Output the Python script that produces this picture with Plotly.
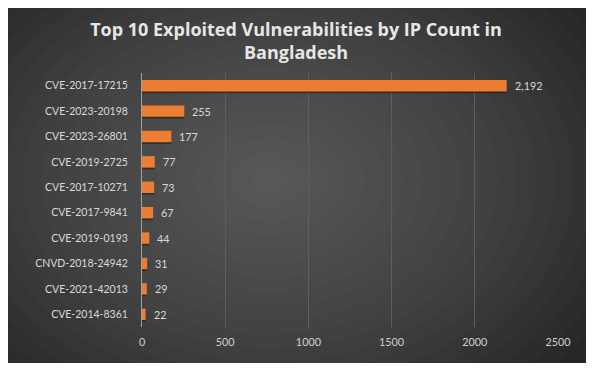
import plotly.graph_objects as go

categories = ["CVE-2017-17215", "CVE-2023-20198", "CVE-2023-26801", "CVE-2019-2725",
              "CVE-2017-10271", "CVE-2017-9841", "CVE-2019-0193", "CNVD-2018-24942",
              "CVE-2021-42013", "CVE-2014-8361"]
ip_counts = [2192, 255, 177, 77, 73, 67, 44, 31, 29, 22]
x_ticks = [0, 500, 1000, 1500, 2000, 2500]

OFF = 8  # page body margin
W, H = 596 - OFF, 370 - OFF
L, R, T, B = 142 - OFF, 558 - OFF, 73 - OFF, 327 - OFF

def px(x):
    return (x - OFF - L) / (R - L)

def py(y):
    return (B - (y - OFF)) / (B - T)

shapes = [dict(type="rect", xref="paper", yref="paper", layer="below",
               x0=px(4), x1=px(586), y0=py(363), y1=py(7),
               fillcolor="#262626", line=dict(width=0))]
n = 20
for i in range(n):
    f = 1 - i / n
    cx, cy = 270, 180
    rx, ry = 380 * f, 280 * f
    shapes.append(dict(type="circle", xref="paper", yref="paper", layer="below",
                       x0=px(cx - rx), x1=px(cx + rx), y0=py(cy + ry), y1=py(cy - ry),
                       fillcolor="rgba(255,255,255,0.016)", line=dict(width=0)))

font_lbl = "Lato"

fig = go.Figure()
fig.add_trace(go.Bar(
    y=categories, x=ip_counts, orientation="h",
    marker=dict(color="rgba(0,0,0,0.35)", line=dict(width=0)),
    width=0.45, offset=-0.225 - 0.07, hoverinfo="skip",
))
fig.add_trace(go.Bar(
    y=categories, x=ip_counts, orientation="h",
    marker=dict(color="#ED7D31", line=dict(width=0)),
    width=0.45, offset=-0.225,
))
for c, v in zip(categories, ip_counts):
    fig.add_annotation(x=v, y=c, text=f"{v:,}", showarrow=False, xanchor="left",
                       xshift=6, font=dict(family=font_lbl, size=10.8, color="#d9d9d9"))

fig.update_layout(
    width=W, height=H,
    margin=dict(l=L, r=W - R, t=T, b=H - B, pad=0),
    paper_bgcolor="white", plot_bgcolor="rgba(0,0,0,0)",
    shapes=shapes,
    barmode="overlay",
    showlegend=False,
    title=dict(text="<b>Top 10 Exploited Vulnerabilities by IP Count in<br>Bangladesh</b>",
               x=(296 - OFF) / W, xanchor="center", y=1 - (36 - OFF) / H, yanchor="middle",
               font=dict(family="Open Sans", size=18, color="#e6e6e6")),
    xaxis=dict(range=[0, 2500], tickvals=x_ticks, showgrid=True, gridcolor="#5e5e5e",
               gridwidth=1, zeroline=False, showline=False,
               tickfont=dict(family=font_lbl, size=10.8, color="#d0d0d0"),
               ticklabelstandoff=7),
    yaxis=dict(categoryorder="array", categoryarray=categories[::-1],
               showgrid=False, zeroline=False, showline=True, linecolor="#a0a0a0",
               linewidth=1, tickfont=dict(family=font_lbl, size=10.5, color="#d9d9d9"),
               ticklabelstandoff=11),
)

fig.write_html("out.html")
